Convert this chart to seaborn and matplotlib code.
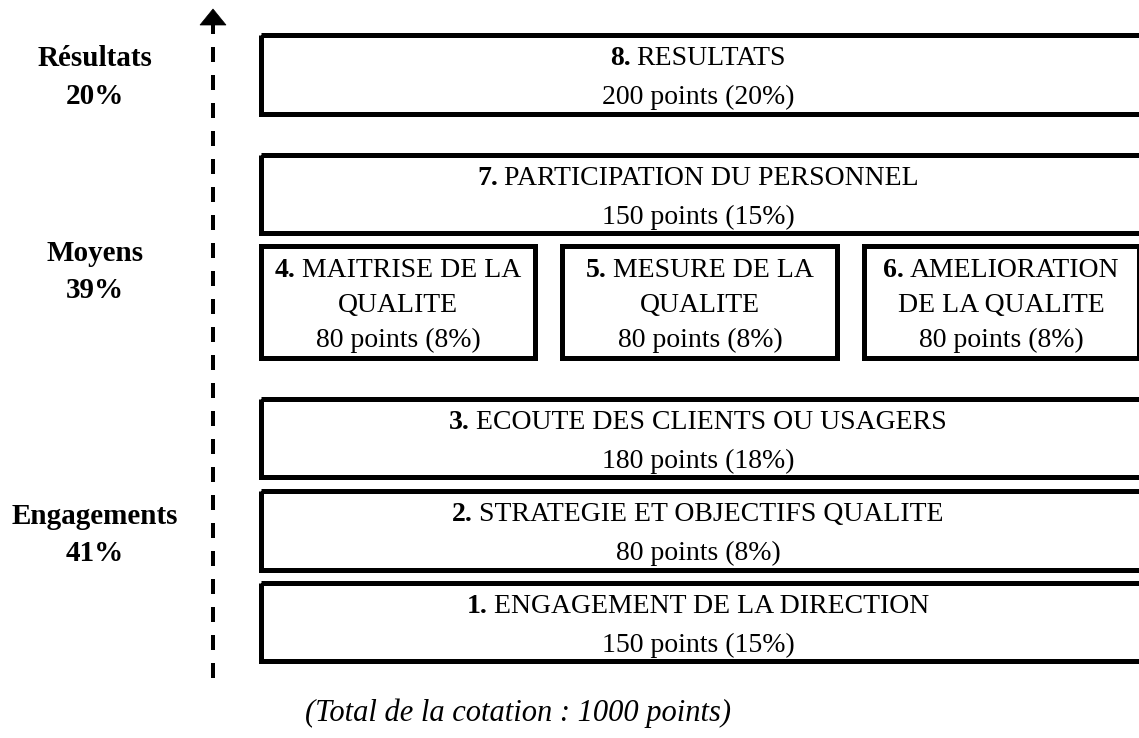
import matplotlib
matplotlib.use("Agg")
import matplotlib.pyplot as plt
import seaborn as sns
from matplotlib.patches import Rectangle, Polygon

# ---------------- data ----------------
numbers = ["1.", "2.", "3.", "4.", "5.", "6.", "7.", "8."]
titles = [
    ["ENGAGEMENT DE LA DIRECTION"],
    ["STRATEGIE ET OBJECTIFS QUALITE"],
    ["ECOUTE DES CLIENTS OU USAGERS"],
    ["MAITRISE DE LA", "QUALITE"],
    ["MESURE DE LA", "QUALITE"],
    ["AMELIORATION", "DE LA QUALITE"],
    ["PARTICIPATION DU PERSONNEL"],
    ["RESULTATS"],
]
points = [150, 80, 180, 80, 80, 80, 150, 200]
percents = [15, 8, 18, 8, 8, 8, 15, 20]

groups = ["Engagements", "Moyens", "Résultats"]
group_pct = [41, 39, 20]

caption = "(Total de la cotation : 1000 points)"

# ---------------- layout (pixel space) ----------------
W, H = 1139, 738
box_edges = [  # x0, y0, x1, y1 (outer edges)
    (258, 580, 1144, 663),
    (258, 488, 1144, 572),
    (258, 396, 1144, 479),
    (258, 243, 537, 360),
    (559, 243, 839, 360),
    (861, 243, 1141, 360),
    (258, 152, 1144, 235),
    (258, 32, 1144, 116),
]
text_cx = [698, 698, 698, 398, 700, 1001, 698, 698]
group_pos = [(95, 524, 561), (95, 261, 298), (95, 66, 104)]
BORDER = 5
FS = 20
FS_GROUP = 21
FS_CAPTION = 22

sns.set_theme(style="white")
plt.rcParams["font.family"] = ["Liberation Serif", "DejaVu Serif"]
plt.rcParams["lines.scale_dashes"] = False
plt.rcParams["text.color"] = "black"

fig = plt.figure(figsize=(W / 100, H / 100), dpi=100)
ax = fig.add_axes([0, 0, 1, 1])
ax.set_xlim(0, W)
ax.set_ylim(H, 0)
ax.axis("off")
renderer = fig.canvas.get_renderer()
px_per_pt = 100 / 72


def mixed_line(cx, y, bold, regular):
    if bold:
        tb = ax.text(0, y, bold, fontsize=FS, fontweight="bold", ha="left", va="baseline", color="black")
        tr = ax.text(0, y, regular, fontsize=FS, ha="left", va="baseline", color="black")
        wb = tb.get_window_extent(renderer).width
        wr = tr.get_window_extent(renderer).width
        gap = 0.22 * FS * px_per_pt
        start = cx - (wb + gap + wr) / 2
        tb.set_x(start)
        tr.set_x(start + wb + gap)
    else:
        ax.text(cx, y, regular, fontsize=FS, ha="center", va="baseline", color="black")


half = BORDER / 2
for i, (x0, y0, x1, y1) in enumerate(box_edges):
    ax.add_patch(Rectangle((x0 + half, y0 + half), x1 - x0 - BORDER, y1 - y0 - BORDER,
                           fill=False, edgecolor="black", linewidth=BORDER / px_per_pt,
                           joinstyle="miter", clip_on=True))
    lines = titles[i] + [f"{points[i]} points ({percents[i]}%)"]
    if len(lines) == 2:
        bases = [y0 + 33, y0 + 72]
    else:
        bases = [y0 + 34, y0 + 69, y0 + 104]
    for j, (ln, yb) in enumerate(zip(lines, bases)):
        mixed_line(text_cx[i], yb, numbers[i] if j == 0 else "", ln)

for (cx, yb1, yb2), g, p in zip(group_pos, groups, group_pct):
    ax.text(cx, yb1, g, fontsize=FS_GROUP, fontweight="bold", ha="center", va="baseline", color="black")
    ax.text(cx, yb2, f"{p}%", fontsize=FS_GROUP, fontweight="bold", ha="center", va="baseline", color="black")

# dashed arrow
sns.lineplot(x=[213, 213], y=[678, 24], ax=ax, color="black", linewidth=4 / px_per_pt,
             linestyle=(0, (15 / px_per_pt, 13 / px_per_pt)), dash_capstyle="butt",
             estimator=None, sort=False, legend=False)
ax.add_patch(Polygon([(200, 25), (226, 25), (213, 9)], closed=True, facecolor="black",
                     edgecolor="black", linewidth=0.5))

ax.text(518, 721, caption, fontsize=FS_CAPTION, fontstyle="italic", ha="center", va="baseline", color="black")

fig.savefig("out.png", dpi=100)
